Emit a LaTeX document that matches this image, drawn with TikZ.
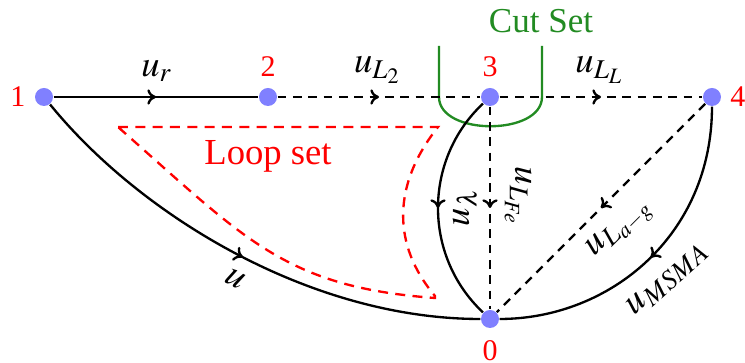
\documentclass[tikz,border=0pt]{standalone}
\usepackage{mathptmx}
\usepackage{fontspec}
\setmainfont{Liberation Serif}
\usetikzlibrary{decorations.markings, arrows.meta}
\definecolor{cutgreen}{RGB}{34,139,34}
\tikzset{
  vtx/.style={circle, fill=blue!50, inner sep=0pt, minimum size=5.4pt},
  numlab/.style={text=red, font=\fontsize{9}{10}\selectfont, inner sep=0pt},
  elab/.style={font=\fontsize{11}{12}\selectfont, inner sep=0pt},
  wire/.style={line width=0.7pt},
  dwire/.style={line width=0.7pt, dash pattern=on 2.6pt off 2pt},
  midarrow/.style={postaction={decorate, decoration={markings, mark=at position #1 with {\arrow{Computer Modern Rightarrow[length=2.6pt, width=4.6pt]}}}}},
  midarrow/.default=0.5,
  loopline/.style={red, line width=0.7pt, dash pattern=on 3pt off 2.2pt},
  cutline/.style={cutgreen, line width=0.7pt},
}
\begin{document}
\begin{tikzpicture}[x=0.3pt, y=-0.3pt]
\useasboundingbox (0,0) rectangle (745,363);

% loop set
\draw[loopline] (118,127) -- (438,127) .. controls (392,185) and (392,245) .. (435,296)
  -- (435,298) .. controls (285,287) and (246,240) .. (118,127) -- cycle;
\node[text=red, font=\fontsize{11}{12}\selectfont, inner sep=0pt] (loopt) at (268,156) {Loop set};

% cut set
\draw[cutline] (439,46) -- (439,97) .. controls (439,136) and (542,136) .. (542,97) -- (542,46);
\node[text=cutgreen, font=\fontsize{10.5}{12}\selectfont, inner sep=0pt] (cutt) at (541,21) {Cut Set};

% vertices
\node[vtx] (n1) at (44,97) {};
\node[vtx] (n2) at (268,97) {};
\node[vtx] (n3) at (490,97) {};
\node[vtx] (n4) at (712,97) {};
\node[vtx] (n0) at (490,319) {};

\node[numlab] (l1) at (18,97) {1};
\node[numlab] (l2) at (268,67) {2};
\node[numlab] (l3) at (490,67) {3};
\node[numlab] (l4) at (738,97) {4};
\node[numlab] (l0) at (490,351) {0};

% edges
\draw[wire, midarrow] (n1) -- (n2);
\draw[dwire, midarrow] (n2) -- (n3);
\draw[dwire, midarrow] (n3) -- (n4);
\draw[dwire, midarrow] (n3) -- (n0);
\draw[dwire, midarrow] (n4) -- (n0);
\draw[wire, midarrow] (n1) .. controls (140,215) and (310,319) .. (n0);
\draw[wire, midarrow] (n3) .. controls (423,160) and (423,256) .. (n0);
\draw[wire, midarrow] (n4) .. controls (712,235) and (610,319) .. (n0);

% edge labels
\node[elab] (eur) at (157,71) {$u_r$};
\node[elab] (eul2) at (378,70) {$u_{L_2}$};
\node[elab] (eull) at (600,70) {$u_{L_L}$};
\node[elab, rotate=-28] (eu) at (235,279) {$u$};
\node[elab, rotate=90] (eulam) at (465,207) {$u_\lambda$};
\node[elab, rotate=-90] (eufe) at (518,197) {$u_{L_{Fe}}$};
\node[elab, rotate=45] (euag) at (621,229) {$u_{L_{a-g}}$};
\node[elab, rotate=42] (eums) at (668,279) {$u_{MSMA}$};
\end{tikzpicture}
\end{document}
